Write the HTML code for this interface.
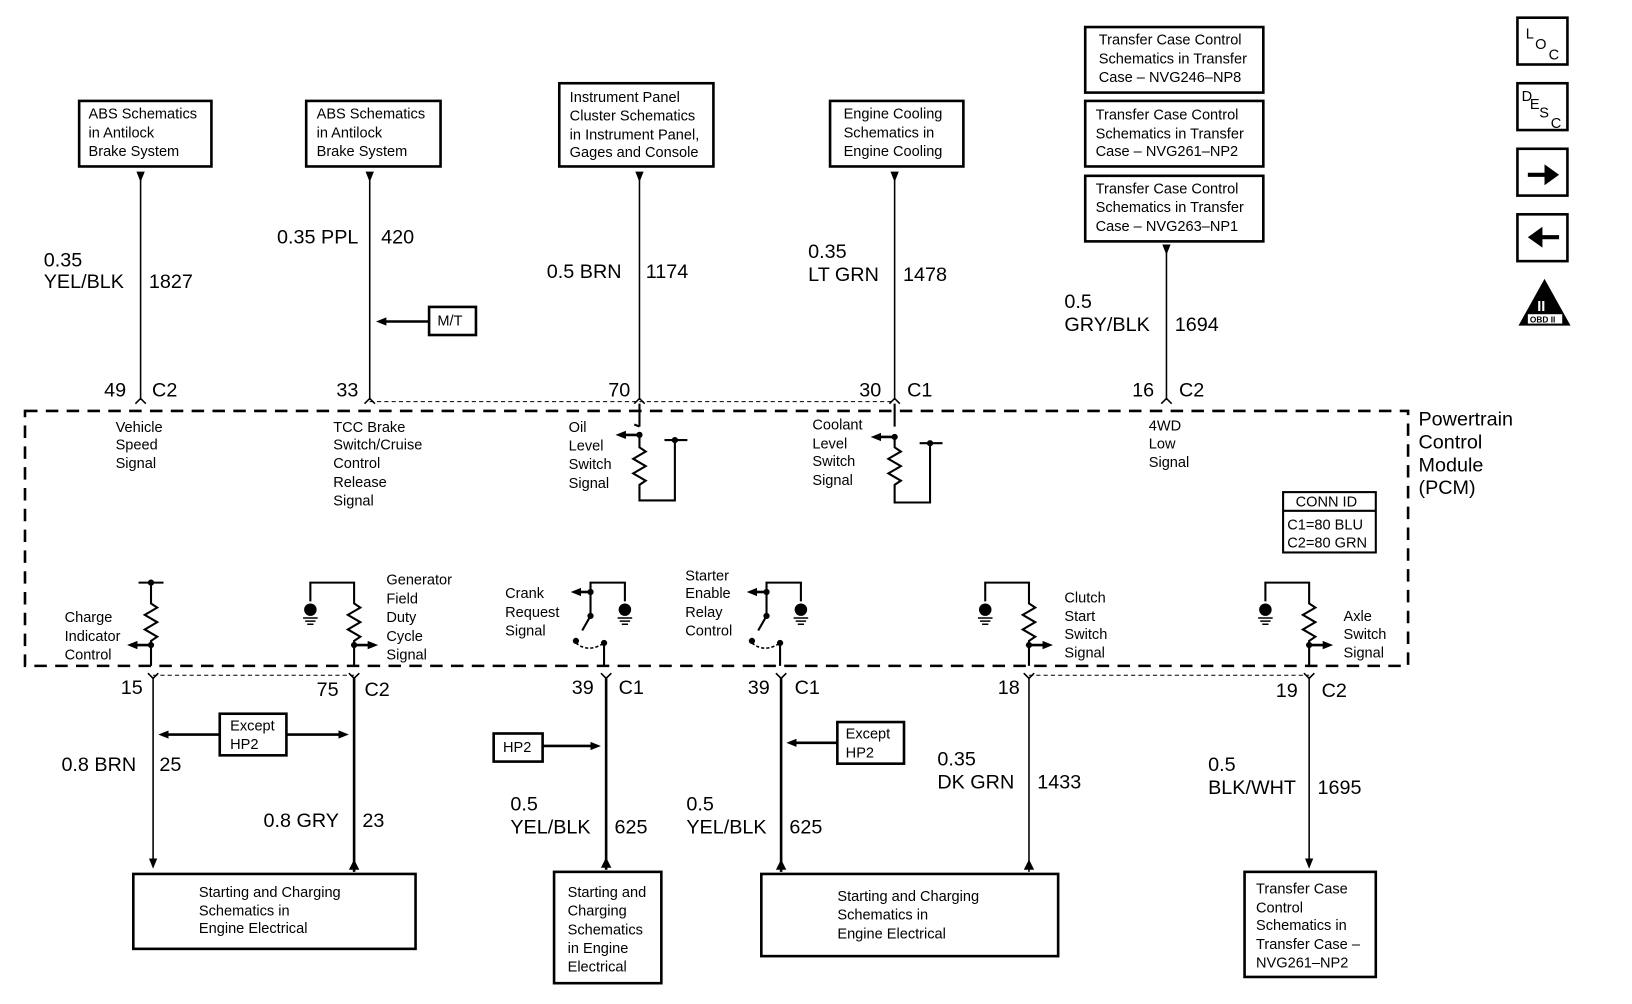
<!DOCTYPE html>
<html><head><meta charset="utf-8"><style>
html,body{margin:0;padding:0;background:#fff}
svg{display:block}
text{font-family:"Liberation Sans",Arial,sans-serif;fill:#000}
.s{font-size:14px}
.m{font-size:19px}
</style></head><body>
<svg width="1632" height="1004" viewBox="0 0 1567 965" preserveAspectRatio="none" xmlns="http://www.w3.org/2000/svg">
<defs>
<marker id="a" markerWidth="10" markerHeight="10" refX="5" refY="5" orient="auto" markerUnits="userSpaceOnUse"><path d="M0,1 L10,5 L0,9 z" fill="#000"/></marker>
</defs>
<g fill="none" stroke="#000" stroke-width="2.5">
<rect x="76" y="97" width="127" height="63"/>
<rect x="294" y="97" width="129" height="63"/>
<rect x="537" y="80" width="148" height="80"/>
<rect x="797" y="97" width="128" height="63"/>
<rect x="1042" y="26" width="171" height="63"/>
<rect x="1042" y="97" width="171" height="63"/>
<rect x="1042" y="169" width="171" height="63"/>
<rect x="1457" y="17" width="48" height="45"/>
<rect x="1457" y="80" width="48" height="45"/>
<rect x="1457" y="143" width="48" height="45"/>
<rect x="1457" y="206" width="48" height="45"/>
<rect x="412" y="295" width="45" height="27"/>
<rect x="211" y="686" width="64" height="40"/>
<rect x="474" y="705" width="47" height="27"/>
<rect x="804" y="694" width="64" height="40"/>
<rect x="128" y="840" width="271" height="72"/>
<rect x="532" y="838" width="103" height="107"/>
<rect x="731" y="840" width="285" height="79"/>
<rect x="1195" y="838" width="126" height="101"/>
<rect x="1232" y="473" width="89" height="58" stroke-width="2"/>
<line x1="1232" y1="491" x2="1321" y2="491" stroke-width="2"/>
</g>
<!-- icons -->
<path d="M1467,166 h16 v-8 l14,10 l-14,10 v-8 h-16z" fill="#000"/>
<path d="M1497,226 h-16 v-8 l-14,10 l14,10 v-8 h16z" fill="#000"/>
<path d="M1483,268 L1508,313 L1458,313z" fill="#000"/>
<rect x="1467" y="302" width="33" height="9" fill="#fff"/>
<text x="1469" y="310" style="font-size:8px;font-weight:bold">OBD II</text>
<text x="1476" y="299" style="font-size:14px;font-weight:bold;fill:#fff">II</text>
<text x="1465" y="37" class="s">L</text><text x="1474" y="47" class="s">O</text><text x="1487" y="57" class="s">C</text>
<text x="1461" y="97" class="s">D</text><text x="1469" y="105" class="s">E</text><text x="1478" y="113" class="s">S</text><text x="1489" y="123" class="s">C</text>

<!-- PCM border -->
<rect x="24" y="395" width="1328" height="245" fill="none" stroke="#000" stroke-width="2.5" stroke-dasharray="12,8"/>
<line x1="355" y1="386" x2="859" y2="386" stroke="#000" stroke-width="1" stroke-dasharray="4,3"/>
<line x1="147" y1="649" x2="340" y2="649" stroke="#000" stroke-width="1" stroke-dasharray="4,3"/>
<line x1="988" y1="649" x2="1257" y2="649" stroke="#000" stroke-width="1" stroke-dasharray="4,3"/>

<g stroke="#000" fill="none">
<line x1="135" y1="170" x2="135" y2="383" stroke-width="1.5" marker-start="url(#a)"/>
<line x1="355" y1="170" x2="355" y2="383" stroke-width="1.5" marker-start="url(#a)"/>
<line x1="614" y1="170" x2="614" y2="383" stroke-width="1.5" marker-start="url(#a)"/>
<line x1="859" y1="170" x2="859" y2="383" stroke-width="1.5" marker-start="url(#a)"/>
<line x1="1120" y1="240" x2="1120" y2="383" stroke-width="1.5" marker-start="url(#a)"/>
<line x1="412" y1="309" x2="366" y2="309" stroke-width="2.5" marker-end="url(#a)"/>
<path d="M130,388 l5,-5 l5,5 M350,388 l5,-5 l5,5 M609,388 l5,-5 l5,5 M854,388 l5,-5 l5,5 M1115,388 l5,-5 l5,5" stroke-width="1.5"/>
<path d="M614,388 V410 M614,410 l-5,-2 M614,420 V430 l6,4 l-12,7 l12,7 l-12,7 l12,7 l-6,4 V481 H648 V423 M638,423 H660" stroke-width="2"/>
<path d="M614,418 H596" stroke-width="2.5" marker-end="url(#a)"/>
<circle cx="614" cy="418" r="2.5" fill="#000"/><circle cx="648" cy="423" r="2.5" fill="#000"/>
<path d="M859,388 V410 M859,420 V430 l6,4 l-12,7 l12,7 l-12,7 l12,7 l-6,4 V483 H893 V426 M883,426 H905" stroke-width="2"/>
<path d="M859,420 H841" stroke-width="2.5" marker-end="url(#a)"/>
<circle cx="859" cy="420" r="2.5" fill="#000"/><circle cx="893" cy="426" r="2.5" fill="#000"/>

<line x1="147" y1="652" x2="147" y2="830" stroke-width="1.5" marker-end="url(#a)"/>
<line x1="340" y1="652" x2="340" y2="838" stroke-width="2.5"/>
<line x1="582" y1="652" x2="582" y2="836" stroke-width="2.5"/>
<line x1="750" y1="652" x2="750" y2="838" stroke-width="2.5"/>
<line x1="988" y1="652" x2="988" y2="838" stroke-width="1.5"/>
<line x1="1257" y1="652" x2="1257" y2="830" stroke-width="1.5" marker-end="url(#a)"/>
<path d="M340,826 l-5,10 h10z M582,824 l-5,10 h10z M750,826 l-5,10 h10z M988,826 l-5,10 h10z" fill="#000" stroke="none"/>
<path d="M142,647 l5,5 l5,-5 M335,647 l5,5 l5,-5 M577,647 l5,5 l5,-5 M745,647 l5,5 l5,-5 M983,647 l5,5 l5,-5 M1252,647 l5,5 l5,-5" stroke-width="1.5"/>
<line x1="211" y1="706" x2="157" y2="706" stroke-width="2.5" marker-end="url(#a)"/>
<line x1="275" y1="706" x2="330" y2="706" stroke-width="2.5" marker-end="url(#a)"/>
<line x1="521" y1="717" x2="572" y2="717" stroke-width="2.5" marker-end="url(#a)"/>
<line x1="804" y1="714" x2="760" y2="714" stroke-width="2.5" marker-end="url(#a)"/>

<path d="M133,560 H157 M145,560 V580 l6,4 l-12,7 l12,7 l-12,7 l12,7 l-6,4 V640" stroke-width="2"/>
<circle cx="145" cy="560" r="2.5" fill="#000"/><circle cx="145" cy="620" r="2.5" fill="#000"/>
<path d="M145,620 H127" stroke-width="2.5" marker-end="url(#a)"/>
<path d="M298,578 V560 H340 V580 l6,4 l-12,7 l12,7 l-12,7 l12,7 l-6,4 V640" stroke-width="2"/>
<path d="M340,620 H358" stroke-width="2.5" marker-end="url(#a)"/>
<circle cx="340" cy="620" r="2.5" fill="#000"/>
<path d="M567,569 V560 H600 V578 M567,569 V592 l-8,14 M580,618 V640" stroke-width="2"/>
<path d="M567,569 H553" stroke-width="2.5" marker-end="url(#a)"/>
<path d="M553,618 q12,10 27,0" stroke-width="1.5" stroke-dasharray="3,2"/>
<circle cx="567" cy="569" r="2.5" fill="#000"/><circle cx="567" cy="592" r="2.5" fill="#000"/><circle cx="553" cy="616" r="2.5" fill="#000"/><circle cx="580" cy="618" r="2.5" fill="#000"/>
<path d="M736,569 V560 H769 V578 M736,569 V592 l-8,14 M749,618 V640" stroke-width="2"/>
<path d="M736,569 H722" stroke-width="2.5" marker-end="url(#a)"/>
<path d="M722,618 q12,10 27,0" stroke-width="1.5" stroke-dasharray="3,2"/>
<circle cx="736" cy="569" r="2.5" fill="#000"/><circle cx="736" cy="592" r="2.5" fill="#000"/><circle cx="722" cy="616" r="2.5" fill="#000"/><circle cx="749" cy="618" r="2.5" fill="#000"/>
<path d="M946,578 V560 H988 V580 l6,4 l-12,7 l12,7 l-12,7 l12,7 l-6,4 V640" stroke-width="2"/>
<path d="M988,620 H1006" stroke-width="2.5" marker-end="url(#a)"/>
<circle cx="988" cy="620" r="2.5" fill="#000"/>
<path d="M1215,578 V560 H1257 V580 l6,4 l-12,7 l12,7 l-12,7 l12,7 l-6,4 V640" stroke-width="2"/>
<path d="M1257,620 H1275" stroke-width="2.5" marker-end="url(#a)"/>
<circle cx="1257" cy="620" r="2.5" fill="#000"/>
<g stroke-width="1.5">
<path d="M291,594 h14 M293,597 h10 M295,600 h6 M593,594 h14 M595,597 h10 M597,600 h6 M762,594 h14 M764,597 h10 M766,600 h6 M939,594 h14 M941,597 h10 M943,600 h6 M1208,594 h14 M1210,597 h10 M1212,600 h6"/>
</g>
</g>
<g fill="#000"><circle cx="298" cy="586" r="6"/><circle cx="600" cy="586" r="6"/><circle cx="769" cy="586" r="6"/><circle cx="946" cy="586" r="6"/><circle cx="1215" cy="586" r="6"/></g>

<g class="s">
<text x="85" y="114">ABS Schematics</text><text x="85" y="132">in Antilock</text><text x="85" y="150">Brake System</text>
<text x="304" y="114">ABS Schematics</text><text x="304" y="132">in Antilock</text><text x="304" y="150">Brake System</text>
<text x="547" y="98">Instrument Panel</text><text x="547" y="116">Cluster Schematics</text><text x="547" y="134">in Instrument Panel,</text><text x="547" y="151">Gages and Console</text>
<text x="810" y="114">Engine Cooling</text><text x="810" y="132">Schematics in</text><text x="810" y="150">Engine Cooling</text>
<text x="1055" y="43">Transfer Case Control</text><text x="1055" y="61">Schematics in Transfer</text><text x="1055" y="79">Case – NVG246–NP8</text>
<text x="1052" y="115">Transfer Case Control</text><text x="1052" y="133">Schematics in Transfer</text><text x="1052" y="150">Case – NVG261–NP2</text>
<text x="1052" y="186">Transfer Case Control</text><text x="1052" y="204">Schematics in Transfer</text><text x="1052" y="222">Case – NVG263–NP1</text>
<text x="420" y="313">M/T</text>
<text x="221" y="702">Except</text><text x="221" y="720">HP2</text>
<text x="483" y="723">HP2</text>
<text x="812" y="710">Except</text><text x="812" y="728">HP2</text>
<text x="191" y="862">Starting and Charging</text><text x="191" y="880">Schematics in</text><text x="191" y="897">Engine Electrical</text>
<text x="545" y="862">Starting and</text><text x="545" y="880">Charging</text><text x="545" y="898">Schematics</text><text x="545" y="916">in Engine</text><text x="545" y="934">Electrical</text>
<text x="804" y="866">Starting and Charging</text><text x="804" y="884">Schematics in</text><text x="804" y="902">Engine Electrical</text>
<text x="1206" y="859">Transfer Case</text><text x="1206" y="877">Control</text><text x="1206" y="894">Schematics in</text><text x="1206" y="912">Transfer Case –</text><text x="1206" y="930">NVG261–NP2</text>
<text x="1244" y="487">CONN ID</text><text x="1236" y="509">C1=80 BLU</text><text x="1236" y="526">C2=80 GRN</text>
<text x="111" y="415">Vehicle</text><text x="111" y="432">Speed</text><text x="111" y="450">Signal</text>
<text x="320" y="415">TCC Brake</text><text x="320" y="432">Switch/Cruise</text><text x="320" y="450">Control</text><text x="320" y="468">Release</text><text x="320" y="486">Signal</text>
<text x="546" y="415">Oil</text><text x="546" y="433">Level</text><text x="546" y="451">Switch</text><text x="546" y="469">Signal</text>
<text x="780" y="413">Coolant</text><text x="780" y="431">Level</text><text x="780" y="448">Switch</text><text x="780" y="466">Signal</text>
<text x="1103" y="414">4WD</text><text x="1103" y="431">Low</text><text x="1103" y="449">Signal</text>
<text x="62" y="598">Charge</text><text x="62" y="616">Indicator</text><text x="62" y="634">Control</text>
<text x="371" y="562">Generator</text><text x="371" y="580">Field</text><text x="371" y="598">Duty</text><text x="371" y="616">Cycle</text><text x="371" y="634">Signal</text>
<text x="485" y="575">Crank</text><text x="485" y="593">Request</text><text x="485" y="611">Signal</text>
<text x="658" y="558">Starter</text><text x="658" y="575">Enable</text><text x="658" y="593">Relay</text><text x="658" y="611">Control</text>
<text x="1022" y="579">Clutch</text><text x="1022" y="597">Start</text><text x="1022" y="614">Switch</text><text x="1022" y="632">Signal</text>
<text x="1290" y="597">Axle</text><text x="1290" y="614">Switch</text><text x="1290" y="632">Signal</text>
</g>
<g class="m">
<text x="1362" y="409">Powertrain</text><text x="1362" y="431">Control</text><text x="1362" y="453">Module</text><text x="1362" y="475">(PCM)</text>
<text x="42" y="256">0.35</text><text x="42" y="277">YEL/BLK</text><text x="143" y="277">1827</text>
<text x="266" y="234">0.35 PPL</text><text x="366" y="234">420</text>
<text x="525" y="267">0.5 BRN</text><text x="620" y="267">1174</text>
<text x="776" y="248">0.35</text><text x="776" y="270">LT GRN</text><text x="867" y="270">1478</text>
<text x="1022" y="296">0.5</text><text x="1022" y="318">GRY/BLK</text><text x="1128" y="318">1694</text>
<text x="100" y="381">49</text><text x="146" y="381">C2</text>
<text x="323" y="381">33</text><text x="584" y="381">70</text>
<text x="825" y="381">30</text><text x="871" y="381">C1</text>
<text x="1087" y="381">16</text><text x="1132" y="381">C2</text>
<text x="116" y="667">15</text><text x="304" y="669">75</text><text x="350" y="669">C2</text>
<text x="549" y="667">39</text><text x="594" y="667">C1</text>
<text x="718" y="667">39</text><text x="763" y="667">C1</text>
<text x="958" y="667">18</text>
<text x="1225" y="670">19</text><text x="1269" y="670">C2</text>
<text x="59" y="741">0.8 BRN</text><text x="153" y="741">25</text>
<text x="253" y="795">0.8 GRY</text><text x="348" y="795">23</text>
<text x="490" y="779">0.5</text><text x="490" y="801">YEL/BLK</text><text x="590" y="801">625</text>
<text x="659" y="779">0.5</text><text x="659" y="801">YEL/BLK</text><text x="758" y="801">625</text>
<text x="900" y="736">0.35</text><text x="900" y="758">DK GRN</text><text x="996" y="758">1433</text>
<text x="1160" y="741">0.5</text><text x="1160" y="763">BLK/WHT</text><text x="1265" y="763">1695</text>
</g>
</svg>
</body></html>
